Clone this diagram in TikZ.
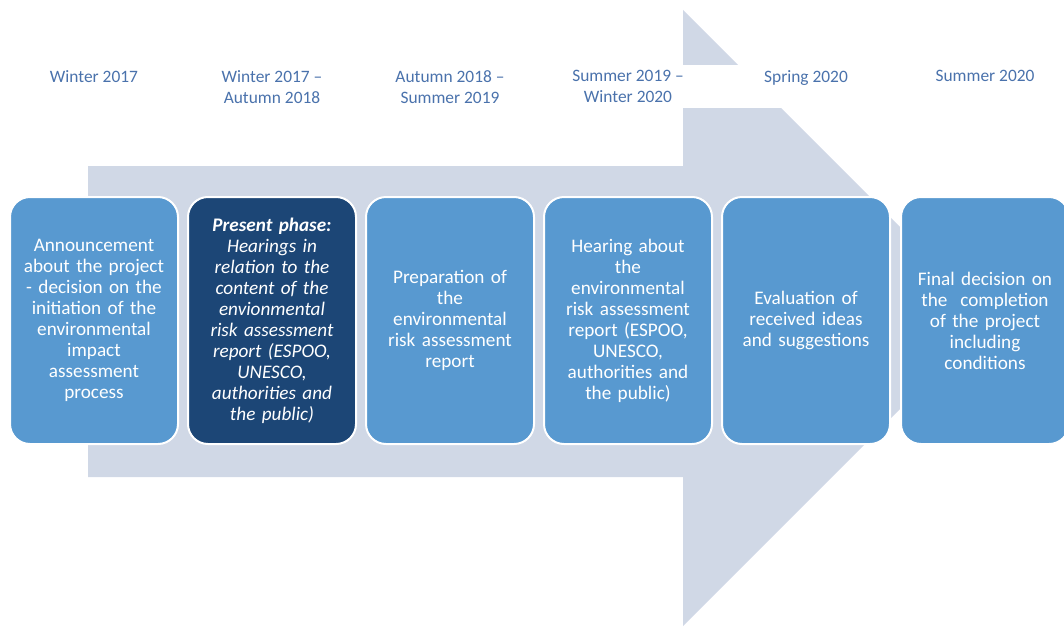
\documentclass[tikz,border=0pt]{standalone}
\usepackage{fontspec}
\setmainfont{Carlito}
\usetikzlibrary{positioning}
\definecolor{stepcolor}{RGB}{88,153,208}
\definecolor{nowcolor}{RGB}{28,70,118}
\definecolor{arrowcolor}{RGB}{208,216,230}
\definecolor{datecolor}{RGB}{74,114,172}

\begin{document}
\begin{tikzpicture}[
    x=1pt, y=-1pt,
    node distance=10pt,
    phase/.style={rectangle, draw=white, line width=2pt, fill=stepcolor, text=white, minimum width=168pt, minimum height=247pt, rounded corners=20pt, align=center, text width=162pt, inner sep=3pt, outer sep=0pt, font=\fontsize{19.2}{21}\selectfont},
    date/.style={anchor=north, text=datecolor, align=center, inner sep=0pt, font=\fontsize{17.4}{21}\selectfont}
]
\useasboundingbox (0,0) rectangle (1064,626);

% Big arrow behind the phases
\fill[arrowcolor] (88,166) -- (683,166) -- (683,10) -- (991,318) -- (683,626) -- (683,477) -- (88,477) -- cycle;
\fill[white] (0,65) rectangle (1064,108);

% Phases
\node[phase] (announce) at (94,320.5) {Announcement\\about the project\\- decision on the\\initiation of the\\environmental\\impact\\assessment\\process};
\node[phase, fill=nowcolor, right=of announce] (present) {\itshape\textbf{Present phase:}\\\itshape Hearings in\\\itshape relation to the\\\itshape content of the\\\itshape envionmental\\\itshape risk assessment\\\itshape report (ESPOO,\\\itshape UNESCO,\\\itshape authorities and\\\itshape the public)};
\node[phase, right=of present] (prep) {Preparation of\\the\\environmental\\risk assessment\\report};
\node[phase, right=of prep] (hearing) {Hearing about\\the\\environmental\\risk assessment\\report (ESPOO,\\UNESCO,\\authorities and\\the public)};
\node[phase, right=of hearing] (evaluation) {Evaluation of\\received ideas\\and suggestions};
\node[phase, right=of evaluation, xshift=1pt] (final) {Final decision on\\the~~completion\\of the project\\including\\conditions};

% Dates
\coordinate (datetop) at (0,70);
\node[date] (d1) at (announce.north |- datetop) {Winter 2017};
\node[date] (d2) at (present.north |- datetop) {Winter 2017 --\\Autumn 2018};
\node[date] (d3) at (prep.north |- datetop) {Autumn 2018 --\\Summer 2019};
\node[date] (d4) at (hearing.north |- datetop) {Summer 2019 --\\Winter 2020};
\node[date] (d5) at (evaluation.north |- datetop) {Spring 2020};
\node[date] (d6) at (final.north |- datetop) {Summer 2020};

\end{tikzpicture}
\end{document}
